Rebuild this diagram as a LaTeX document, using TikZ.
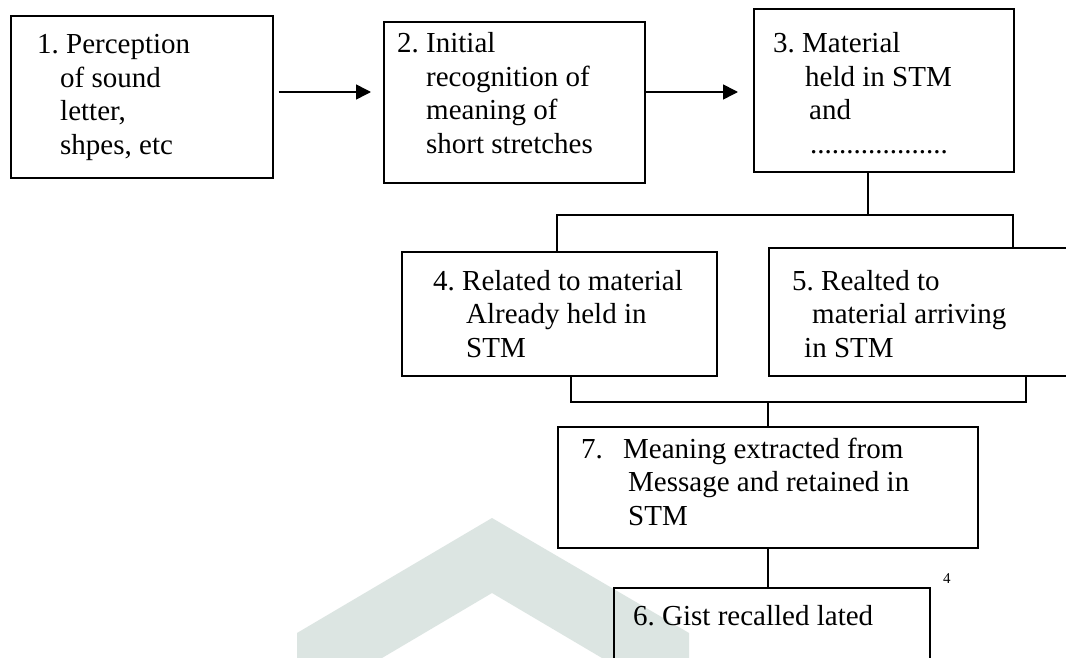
\documentclass[tikz,border=0pt]{standalone}
\usepackage{fontspec}
\setmainfont{Liberation Serif}
\usetikzlibrary{arrows.meta}
\definecolor{wm}{RGB}{220,229,226}
\frenchspacing
\begin{document}
\begin{tikzpicture}[x=1pt,y=-1pt,
  box/.style={draw=black, line width=1.6pt, inner sep=0pt, anchor=north west},
  txt/.style={inner sep=0pt, anchor=base west, font=\fontsize{29}{33.5}\selectfont\frenchspacing},
  conn/.style={draw=black, line width=1.6pt},
  arr/.style={conn, -{Triangle[length=15pt,width=15pt]}}]
\useasboundingbox (0,0) rectangle (1066,658);
\clip (0,0) rectangle (1066,658);
\fill[white] (0,0) rectangle (1066,658);
% watermark chevron
\fill[wm] (297,670) -- (297,633) -- (492,518) -- (689,633) -- (689,670)
  -- (602,658) -- (492,593) -- (382,658) -- (297,670) -- cycle;
% boxes
\node[box, minimum width=262pt, minimum height=162pt] (b1) at (10,15) {};
\node[box, minimum width=261pt, minimum height=161pt] (b2) at (383,21) {};
\node[box, minimum width=260pt, minimum height=163pt] (b3) at (753,8) {};
\node[box, minimum width=315pt, minimum height=124pt] (b4) at (401,251) {};
\node[box, minimum width=302pt, minimum height=128pt] (b5) at (768,247) {};
\node[box, minimum width=420pt, minimum height=121pt] (b7) at (557,426) {};
\node[box, minimum width=316pt, minimum height=100pt] (b6) at (613,587) {};
% texts
\node[txt] (t1) at (37,54) {\begin{tabular}[t]{@{}l@{}}1. Perception\\\hspace*{23pt}of sound\\\hspace*{23pt}letter,\\\hspace*{23pt}shpes, etc\end{tabular}};
\node[txt] (t2) at (397,53) {\begin{tabular}[t]{@{}l@{}}2. Initial\\\hspace*{29pt}recognition of\\\hspace*{29pt}meaning of\\\hspace*{29pt}short stretches\end{tabular}};
\node[txt] (t3) at (773,53) {\begin{tabular}[t]{@{}l@{}}3. Material\\\hspace*{32pt}held in STM\\\hspace*{36pt}and\\\hspace*{37pt}...................\end{tabular}};
\node[txt] (t4) at (433,290) {\begin{tabular}[t]{@{}l@{}}4. Related to material\\\hspace*{33pt}Already held in\\\hspace*{33pt}STM\end{tabular}};
\node[txt] (t5) at (792,290) {\begin{tabular}[t]{@{}l@{}}5. Realted to\\\hspace*{20pt}material arriving\\\hspace*{12pt}in STM\end{tabular}};
\node[txt] (t7) at (581,458) {\begin{tabular}[t]{@{}l@{}}\makebox[42pt][l]{7.}Meaning extracted from\\\hspace*{47pt}Message and retained in\\\hspace*{47pt}STM\end{tabular}};
\node[txt] (t6) at (633,625) {6. Gist recalled lated};
\node[inner sep=0pt, anchor=base west, font=\fontsize{15}{18}\selectfont] (pg) at (943,583) {4};
% connectors
\coordinate (a1) at (0,92);
\draw[arr, shorten <=5pt, shorten >=12pt] (b1.east |- a1) -- (b2.west |- a1);
\draw[arr, shorten >=15pt] (b2.east |- a1) -- (b3.west |- a1);
\coordinate (j1) at (868,215);
\coordinate (h1L) at (557,215);
\coordinate (h1R) at (1013,215);
\draw[conn] (b3.south -| j1) -- (j1);
\draw[conn] (b4.north -| h1L) -- (h1L) -- (h1R) -- (b5.north -| h1R);
\coordinate (h2L) at (571,402);
\coordinate (h2R) at (1026,402);
\draw[conn] (b4.south -| h2L) -- (h2L) -- (h2R) -- (b5.south -| h2R);
\draw[conn] (b7.north |- h2L) -- (b7.north);
\draw[conn] (b7.south) -- (b7.south |- b6.north);
\end{tikzpicture}
\end{document}
